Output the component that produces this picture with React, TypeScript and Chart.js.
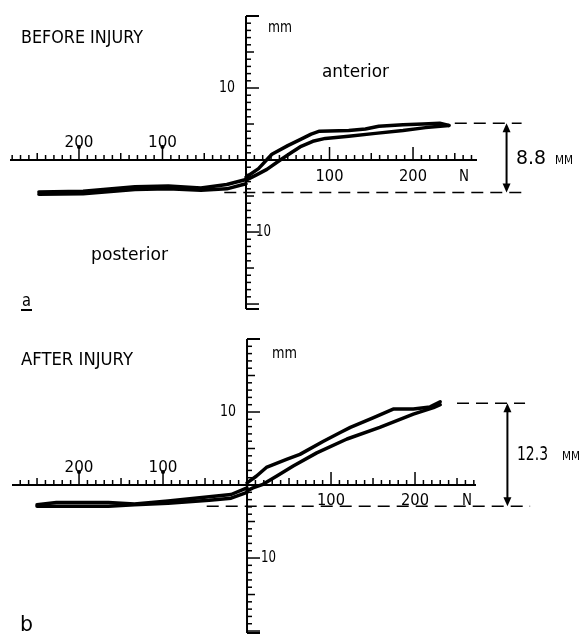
import React, { useEffect, useRef } from 'react';
import { Chart, registerables } from 'chart.js';
Chart.register(...registerables);

// ---------- Panel a: BEFORE INJURY (force N, displacement mm) ----------
const BEFORE_ANT_LOAD_N = [0, 12, 25, 41, 54, 66, 80, 95, 123, 155, 188, 215, 243];
const BEFORE_ANT_LOAD_MM = [-2.8, -2.1, -1.3, 0, 1.0, 1.9, 2.6, 3.0, 3.3, 3.7, 4.1, 4.5, 4.8];
const BEFORE_ANT_UNLOAD_N = [243, 232, 212, 188, 159, 143, 123, 88, 78, 66, 50, 31, 15, 0];
const BEFORE_ANT_UNLOAD_MM = [4.8, 5.1, 5.0, 4.9, 4.7, 4.3, 4.1, 4.0, 3.6, 2.9, 2.0, 0.8, -1.2, -2.4];
const BEFORE_POST_LOAD_N = [0, -23, -54, -93, -133, -195, -248];
const BEFORE_POST_LOAD_MM = [-3.3, -4.0, -4.2, -4.0, -4.1, -4.7, -4.75];
const BEFORE_POST_UNLOAD_N = [-248, -195, -133, -93, -54, -23, 0];
const BEFORE_POST_UNLOAD_MM = [-4.45, -4.35, -3.7, -3.6, -3.9, -3.4, -2.7];
const BEFORE_RANGE_MM = [5.1, -4.5];
const BEFORE_RANGE_LABEL = ['8.8', 'MM'];

// ---------- Panel b: AFTER INJURY ----------
const AFTER_ANT_LOAD_N = [0, 7, 19, 35, 55, 83, 119, 158, 198, 222, 230];
const AFTER_ANT_LOAD_MM = [-0.8, -0.4, 0.1, 1.2, 2.6, 4.4, 6.3, 7.9, 9.7, 10.6, 11.0];
const AFTER_ANT_UNLOAD_N = [230, 218, 198, 174, 150, 123, 111, 91, 63, 47, 23, 11, 0];
const AFTER_ANT_UNLOAD_MM = [11.4, 10.7, 10.4, 10.4, 9.2, 7.9, 7.2, 6.0, 4.2, 3.5, 2.4, 1.2, 0.3];
const AFTER_POST_LOAD_N = [0, -19, -45, -94, -134, -165, -227, -250];
const AFTER_POST_LOAD_MM = [-1.0, -1.8, -2.1, -2.5, -2.7, -2.9, -2.9, -2.9];
const AFTER_POST_UNLOAD_N = [-250, -227, -165, -134, -94, -45, -19, 0];
const AFTER_POST_UNLOAD_MM = [-2.7, -2.4, -2.4, -2.6, -2.2, -1.6, -1.3, -0.4];
const AFTER_RANGE_MM = [11.2, -2.9];
const AFTER_RANGE_LABEL = ['12.3', 'MM'];

// ---------- Axis tick labels ----------
const X_LABELS_NEG = [-200, -100];
const X_LABELS_POS = [100, 200];
const Y_LABELS = [10, -10];

const FONT = 'DejaVu Sans';

function fitText(ctx: CanvasRenderingContext2D, text: string, x: number, y: number, size: number, width: number, align: 'left' | 'center' | 'right' = 'left') {
  ctx.save();
  ctx.font = `${size}px "${FONT}"`;
  const w = ctx.measureText(text).width;
  const sx = width / w;
  ctx.translate(x, y);
  ctx.scale(sx, 1);
  ctx.textBaseline = 'middle';
  ctx.textAlign = 'left';
  let ox = 0;
  if (align === 'center') ox = -w / 2;
  else if (align === 'right') ox = -w;
  ctx.fillStyle = '#000';
  ctx.fillText(text, ox, 0);
  ctx.restore();
}

type TextItem = { t: string; x: number; y: number; w: number; size: number };
type Spec = {
  top: number;
  height: number;
  padding: { left: number; right: number; top: number; bottom: number };
  xMin: number; xMax: number; yMin: number; yMax: number;
  series: { n: number[]; mm: number[] }[];
  texts: TextItem[];
  range: number[];
  rangeLabel: string[];
  rangeLabelPos: { x1: number; w1: number; x2: number; w2: number; y: number };
  dashTop: [number, number];
  dashBottom: [number, number];
  arrowN: number;
  negLabelDy: number;
  posLabelDy: number;
  nLabelN: number;
  yLabelNegX: number;
  underline?: { x1: number; x2: number; y: number };
};

function makePlugin(spec: Spec) {
  return {
    id: 'crossAxes',
    beforeDatasetsDraw(chart: any) {
      const ctx: CanvasRenderingContext2D = chart.ctx;
      const xs = chart.scales.x;
      const ys = chart.scales.y;
      const x0 = xs.getPixelForValue(0);
      const y0 = ys.getPixelForValue(0);
      ctx.save();
      ctx.strokeStyle = '#000';
      ctx.fillStyle = '#000';
      const seg = (a: number, b: number, c: number, d: number, lw: number) => {
        ctx.lineWidth = lw;
        ctx.beginPath();
        ctx.moveTo(a, b);
        ctx.lineTo(c, d);
        ctx.stroke();
      };
      // x axis
      seg(xs.left, y0, xs.right, y0, 2);
      for (let n = Math.ceil(xs.min / 10) * 10; n <= xs.max; n += 10) {
        if (n === 0) continue;
        const px = xs.getPixelForValue(n);
        const len = n % 100 === 0 ? 13 : n % 50 === 0 ? 7 : 5;
        seg(px, y0, px, y0 - len, 1.5);
        if (n < 0 && n % 100 === 0) {
          ctx.beginPath();
          ctx.arc(px, y0 - len, 2, 0, Math.PI * 2);
          ctx.fill();
        }
      }
      // y axis
      seg(x0, ys.top, x0, ys.bottom, 2);
      for (let mm = Math.ceil(ys.min); mm <= Math.floor(ys.max); mm++) {
        if (mm === 0) continue;
        const py = ys.getPixelForValue(mm);
        const len = mm % 10 === 0 ? 13 : mm % 5 === 0 ? 8 : 5;
        seg(x0, py, x0 + len, py, 1.5);
      }
      seg(x0, ys.top, x0 + 13, ys.top, 2);
      seg(x0, ys.bottom, x0 + 13, ys.bottom, 2);

      // tick labels
      X_LABELS_NEG.forEach((n) => {
        fitText(ctx, String(-n), xs.getPixelForValue(n), y0 + spec.negLabelDy, 15, 29, 'center');
      });
      X_LABELS_POS.forEach((n) => {
        fitText(ctx, String(n), xs.getPixelForValue(n), y0 + spec.posLabelDy, 15, 28, 'center');
      });
      fitText(ctx, 'N', xs.getPixelForValue(spec.nLabelN), y0 + spec.posLabelDy, 16, 10, 'center');
      Y_LABELS.forEach((v) => {
        const py = ys.getPixelForValue(v);
        if (v > 0) fitText(ctx, String(v), x0 - 11, py, 16, 16, 'right');
        else fitText(ctx, String(-v), x0 + spec.yLabelNegX, py, 16, 15, 'left');
      });

      // range annotation: dashed lines and double arrow
      const yT = ys.getPixelForValue(spec.range[0]);
      const yB = ys.getPixelForValue(spec.range[1]);
      ctx.setLineDash([12, 7]);
      seg(xs.getPixelForValue(spec.dashTop[0]), yT, xs.getPixelForValue(spec.dashTop[1]), yT, 1.5);
      seg(xs.getPixelForValue(spec.dashBottom[0]), yB, xs.getPixelForValue(spec.dashBottom[1]), yB, 1.5);
      ctx.setLineDash([]);
      const ax = xs.getPixelForValue(spec.arrowN);
      seg(ax, yT + 4, ax, yB - 4, 2);
      ctx.beginPath();
      ctx.moveTo(ax, yT);
      ctx.lineTo(ax - 4, yT + 9);
      ctx.lineTo(ax + 4, yT + 9);
      ctx.closePath();
      ctx.fill();
      ctx.beginPath();
      ctx.moveTo(ax, yB);
      ctx.lineTo(ax - 4, yB - 9);
      ctx.lineTo(ax + 4, yB - 9);
      ctx.closePath();
      ctx.fill();
      const rp = spec.rangeLabelPos;
      fitText(ctx, spec.rangeLabel[0], rp.x1, rp.y - spec.top, 20, rp.w1, 'left');
      fitText(ctx, spec.rangeLabel[1], rp.x2, rp.y - spec.top + 2, 12, rp.w2, 'left');

      // free texts
      spec.texts.forEach((t) => fitText(ctx, t.t, t.x, t.y - spec.top, t.size, t.w, 'left'));
      if (spec.underline) {
        const u = spec.underline;
        seg(u.x1, u.y - spec.top, u.x2, u.y - spec.top, 2);
      }
      ctx.restore();
    },
  };
}

const SPEC_A: Spec = {
  top: 0,
  height: 318,
  padding: { left: 10, right: 106, top: 16, bottom: 9 },
  xMin: -282.6, xMax: 276.6, yMin: -20.69, yMax: 20,
  series: [
    { n: BEFORE_ANT_LOAD_N, mm: BEFORE_ANT_LOAD_MM },
    { n: BEFORE_ANT_UNLOAD_N, mm: BEFORE_ANT_UNLOAD_MM },
    { n: BEFORE_POST_LOAD_N, mm: BEFORE_POST_LOAD_MM },
    { n: BEFORE_POST_UNLOAD_N, mm: BEFORE_POST_UNLOAD_MM },
  ],
  texts: [
    { t: 'BEFORE INJURY', x: 21, y: 38, w: 122, size: 18 },
    { t: 'mm', x: 268, y: 28, w: 24, size: 15 },
    { t: 'anterior', x: 322, y: 73, w: 67, size: 17 },
    { t: 'posterior', x: 91, y: 256, w: 77, size: 17 },
    { t: 'a', x: 22, y: 302, w: 9, size: 17 },
  ],
  range: BEFORE_RANGE_MM,
  rangeLabel: BEFORE_RANGE_LABEL,
  rangeLabelPos: { x1: 516, w1: 30, x2: 555, w2: 18, y: 159 },
  dashTop: [250, 330],
  dashBottom: [-26, 330],
  arrowN: 312,
  negLabelDy: -17,
  posLabelDy: 17,
  nLabelN: 261,
  yLabelNegX: 10,
  underline: { x1: 21, x2: 32, y: 310 },
};

const SPEC_B: Spec = {
  top: 318,
  height: 317,
  padding: { left: 12, right: 107, top: 21, bottom: 2 },
  xMin: -279.8, xMax: 272.6, yMin: -20.27, yMax: 20,
  series: [
    { n: AFTER_ANT_LOAD_N, mm: AFTER_ANT_LOAD_MM },
    { n: AFTER_ANT_UNLOAD_N, mm: AFTER_ANT_UNLOAD_MM },
    { n: AFTER_POST_LOAD_N, mm: AFTER_POST_LOAD_MM },
    { n: AFTER_POST_UNLOAD_N, mm: AFTER_POST_UNLOAD_MM },
  ],
  texts: [
    { t: 'AFTER INJURY', x: 21, y: 360, w: 112, size: 18 },
    { t: 'mm', x: 272, y: 354, w: 25, size: 15 },
    { t: 'b', x: 20, y: 626, w: 13, size: 21 },
  ],
  range: AFTER_RANGE_MM,
  rangeLabel: AFTER_RANGE_LABEL,
  rangeLabelPos: { x1: 517, w1: 31, x2: 562, w2: 18, y: 455 },
  dashTop: [250, 331],
  dashBottom: [-48, 337],
  arrowN: 310,
  negLabelDy: -17,
  posLabelDy: 16,
  nLabelN: 262,
  yLabelNegX: 14,
};

function Panel({ spec }: { spec: Spec }) {
  const ref = useRef<HTMLCanvasElement>(null);
  useEffect(() => {
    const chart = new Chart(ref.current as HTMLCanvasElement, {
      type: 'line',
      data: {
        datasets: spec.series.map((s, k) => ({
          label: 'cycle ' + k,
          data: s.n.map((n, i) => ({ x: n, y: s.mm[i] })),
          borderColor: '#000',
          borderWidth: 3.5,
          pointRadius: 0,
          fill: false,
          tension: 0,
          borderJoinStyle: 'round' as const,
          borderCapStyle: 'round' as const,
        })),
      },
      options: {
        responsive: false,
        animation: false,
        events: [],
        layout: { padding: spec.padding },
        scales: {
          x: { type: 'linear', min: spec.xMin, max: spec.xMax, display: false },
          y: { type: 'linear', min: spec.yMin, max: spec.yMax, display: false },
        },
        plugins: { legend: { display: false }, tooltip: { enabled: false } },
      },
      plugins: [makePlugin(spec)],
    });
    return () => chart.destroy();
  }, [spec]);
  return (
    <canvas
      ref={ref}
      width={583}
      height={spec.height}
      style={{ position: 'absolute', left: 0, top: spec.top, width: 583, height: spec.height, display: 'block' }}
    />
  );
}

export default function App() {
  return (
    <div style={{ position: 'absolute', left: 0, top: 0, width: 583, height: 635, background: '#fff' }}>
      <Panel spec={SPEC_A} />
      <Panel spec={SPEC_B} />
    </div>
  );
}
